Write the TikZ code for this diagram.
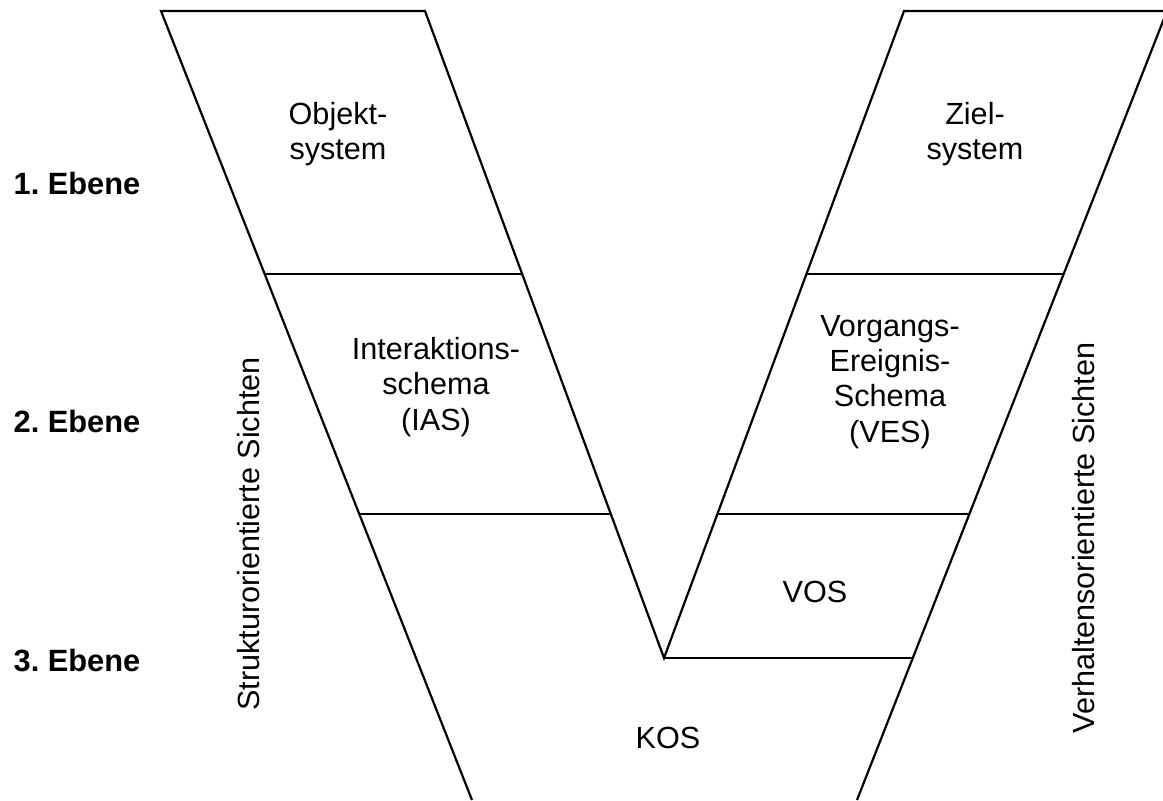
\documentclass[tikz,border=0pt]{standalone}
\usepackage{fontspec}
\setmainfont{Liberation Sans}
\begin{document}
\frenchspacing
\begin{tikzpicture}[x=0.5pt,y=-0.5pt,
  edge/.style={line width=1.1pt, line join=miter},
  lbl/.style={font=\fontsize{15.3}{17.6}\selectfont, align=center, inner sep=0pt},
  lvl/.style={font=\fontsize{15.4}{17}\selectfont\bfseries, inner sep=0pt},
  side/.style={font=\fontsize{15.3}{17}\selectfont, rotate=90, inner sep=0pt}]
\useasboundingbox (0,0) rectangle (1163,800);

% corners of the V
\coordinate (lo-top) at (161,11);
\coordinate (li-top) at (425,11);
\coordinate (ri-top) at (904,11);
\coordinate (ro-top) at (1167,11);
\coordinate (apex)   at (664,658);
\coordinate (lo-bot) at (472,800);
\coordinate (ro-bot) at (857,800);

% ends of the level lines
\coordinate (l1a) at (265,274); \coordinate (l1b) at (522,274);
\coordinate (r1a) at (807,274); \coordinate (r1b) at (1064,274);
\coordinate (l2a) at (360,514); \coordinate (l2b) at (611,514);
\coordinate (r2a) at (718,514); \coordinate (r2b) at (969,514);
\coordinate (r3b) at (913,658);

% outline of the V
\draw[edge] (lo-bot) -- (lo-top) -- (li-top) -- (apex) -- (ri-top) -- (ro-top) -- (ro-bot);

% level boundaries
\draw[edge] (l1a) -- (l1b);
\draw[edge] (r1a) -- (r1b);
\draw[edge] (l2a) -- (l2b);
\draw[edge] (r2a) -- (r2b);
\draw[edge] (apex) -- (r3b);

% views
\node[lbl] (objekt) at (338,134) {Objekt-\\system};
\node[lbl] (ziel) at (975,134) {Ziel-\\system};
\node[lbl] (ias) at (436,387) {Interaktions-\\schema\\(IAS)};
\node[lbl] (ves) at (890,382) {Vorgangs-\\Ereignis-\\Schema\\(VES)};
\node[lbl] (vos) at (815,592) {VOS};
\node[lbl] (kos) at (668,738) {KOS};

% levels
\node[lvl] (e1) at (77,183) {1. Ebene};
\node[lvl] (e2) at (77,421) {2. Ebene};
\node[lvl] (e3) at (77,661) {3. Ebene};

% side captions
\node[side] (struktur) at (249,534) {Strukturorientierte Sichten};
\node[side] (verhalten) at (1084,538) {Verhaltensorientierte Sichten};
\end{tikzpicture}
\end{document}
